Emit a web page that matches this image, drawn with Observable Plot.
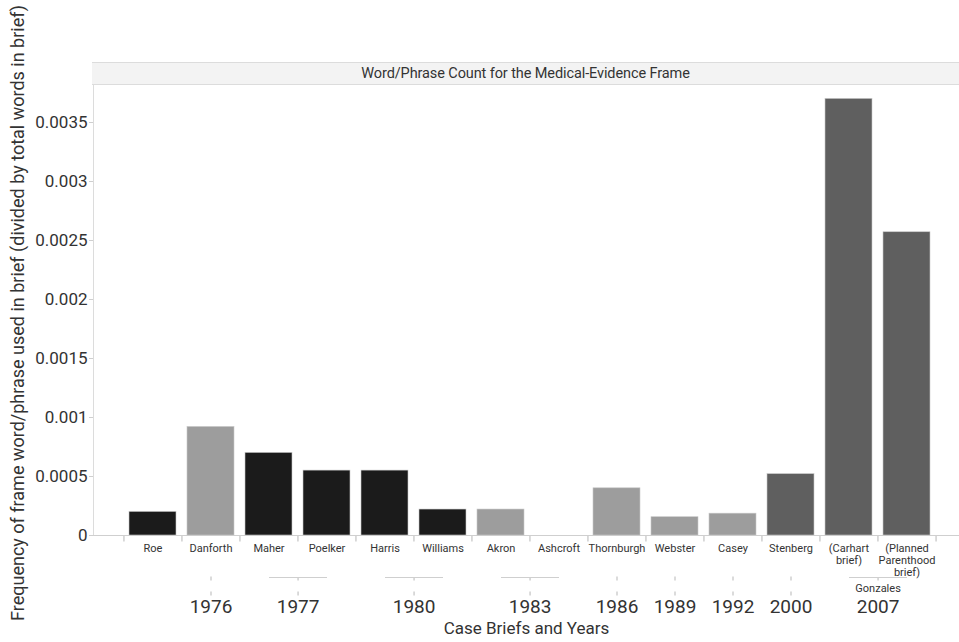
<!DOCTYPE html>
<html>
<head>
<meta charset="utf-8">
<script src="https://cdn.jsdelivr.net/npm/d3@7"></script>
<script src="https://cdn.jsdelivr.net/npm/@observablehq/plot@0.6"></script>
<style>
  body { margin: 0; background: #fff; font-family: Roboto, sans-serif; }
  #wrap { position: relative; width: 959px; height: 642px; }
  #header {
    position: absolute; left: 92px; top: 62px; width: 867px; height: 21px;
    background: #f3f3f3; border-top: 1px solid #dcdcdc; border-bottom: 1px solid #dcdcdc;
    font: 14.5px Roboto, sans-serif; color: #333; text-align: center; line-height: 21px;
    letter-spacing: -0.1px;
  }
</style>
</head>
<body>
<div id="wrap"><div id="header">Word/Phrase Count for the Medical-Evidence Frame</div></div>
<script>
// ---- data ----
const cases = ["Roe", "Danforth", "Maher", "Poelker", "Harris", "Williams", "Akron", "Ashcroft",
  "Thornburgh", "Webster", "Casey", "Stenberg", "Gonzales (Carhart brief)", "Gonzales (Planned Parenthood brief)"];
const caseLabels = ["Roe", "Danforth", "Maher", "Poelker", "Harris", "Williams", "Akron", "Ashcroft",
  "Thornburgh", "Webster", "Casey", "Stenberg", "(Carhart\nbrief)", "(Planned\nParenthood\nbrief)"];
const frequency = [0.0002, 0.00092, 0.0007, 0.00055, 0.00055, 0.00022, 0.00022, 0,
  0.0004, 0.000155, 0.000185, 0.00052, 0.0037, 0.00257];
const shade = ["black", "light", "black", "black", "black", "black", "light", "light",
  "light", "light", "light", "dark", "dark", "dark"];
const shadeNames = ["black", "light", "dark"];
const shadeColors = ["#1b1b1b", "#9d9d9d", "#5f5f5f"];

const yearLabels = ["1976", "1977", "1980", "1983", "1986", "1989", "1992", "2000", "2007"];
const yearFirstCase = ["Danforth", "Maher", "Harris", "Akron", "Thornburgh", "Webster", "Casey", "Stenberg", "Gonzales (Carhart brief)"];
const yearLastCase = ["Danforth", "Poelker", "Williams", "Ashcroft", "Thornburgh", "Webster", "Casey", "Stenberg", "Gonzales (Planned Parenthood brief)"];
const groupNames = ["", "", "", "", "", "", "", "", "Gonzales"];

const yTicks = [0, 0.0005, 0.001, 0.0015, 0.002, 0.0025, 0.003, 0.0035];
const yTickLabels = ["0", "0.0005", "0.001", "0.0015", "0.002", "0.0025", "0.003", "0.0035"];

const yTitle = "Frequency of frame word/phrase used in brief (divided by total words in brief)";
const xTitle = "Case Briefs and Years";

// ---- build ----
const bars = cases.map((c, i) => ({case: c, value: frequency[i], shade: shade[i]}));
const years = yearLabels.map((y, i) => ({
  year: y, first: yearFirstCase[i], last: yearLastCase[i], group: groupNames[i],
  pair: yearFirstCase[i] !== yearLastCase[i]
}));
const singles = years.filter(d => !d.pair);
const pairs = years.filter(d => d.pair);

const xRange = [122, 936];
const step = (xRange[1] - xRange[0]) / cases.length;

const vTick = {draw(ctx, size) { const r = Math.sqrt(size / Math.PI); ctx.moveTo(0, 0); ctx.lineTo(0, r); }};
const gridGray = "#cfcfcf";

const chart = Plot.plot({
  width: 959,
  height: 642,
  marginLeft: 93,
  marginRight: 0,
  marginTop: 84,
  marginBottom: 107,
  style: {fontFamily: "Roboto, sans-serif", color: "#333", background: "transparent"},
  x: {type: "band", domain: cases, range: xRange, paddingInner: 0.19, paddingOuter: 0.095, axis: null},
  y: {domain: [0, 451 / 118000], axis: null},
  color: {domain: shadeNames, range: shadeColors},
  marks: [
    Plot.frame({anchor: "left", stroke: "#dcdcdc"}),
    Plot.ruleY([0], {stroke: gridGray}),
    Plot.axisY({ticks: yTicks, tickFormat: (d) => yTickLabels[yTicks.indexOf(d)], tickSize: 4, tickPadding: 2,
      fontSize: 17, stroke: gridGray, fill: "#333", label: null}),
    Plot.barY(bars, {x: "case", y: "value", fill: "shade", stroke: "#c8c8c8", strokeWidth: 0.6}),
    // case labels
    Plot.axisX({ticks: cases, tickFormat: (d) => caseLabels[cases.indexOf(d)], tickSize: 0, tickPadding: 8,
      fontSize: 11, lineHeight: 1.1, fill: "#333", label: null}),
    // separators between cases
    Plot.dot(cases, {x: d => d, frameAnchor: "bottom", symbol: vTick, r: 6, stroke: gridGray, dx: -step / 2}),
    Plot.dot(cases.slice(-1), {x: d => d, frameAnchor: "bottom", symbol: vTick, r: 6, stroke: gridGray, dx: step / 2}),
    // year row: single-case years
    Plot.dot(singles, {x: "first", frameAnchor: "bottom", symbol: vTick, r: 4, stroke: gridGray, dy: 41}),
    Plot.dot(singles, {x: "first", frameAnchor: "bottom", symbol: vTick, r: 4, stroke: gridGray, dy: 56}),
    Plot.text(singles, {x: "first", text: "year", frameAnchor: "bottom", lineAnchor: "middle", dy: 71, fontSize: 19, fill: "#333"}),
    // year row: two-case years with bracket
    Plot.link(pairs, {x1: "first", x2: "last", y1: 0, y2: 0, dy: 42, stroke: gridGray}),
    Plot.dot(pairs, {x: "first", frameAnchor: "bottom", symbol: vTick, r: 3, stroke: gridGray, dy: 42, dx: step / 2}),
    Plot.dot(pairs.filter(d => !d.group), {x: "first", frameAnchor: "bottom", symbol: vTick, r: 4, stroke: gridGray, dy: 56, dx: step / 2}),
    Plot.text(pairs.filter(d => d.group), {x: "first", text: "group", frameAnchor: "bottom", lineAnchor: "middle", dy: 53, dx: step / 2, fontSize: 11, fill: "#333"}),
    Plot.text(pairs, {x: "first", text: "year", frameAnchor: "bottom", lineAnchor: "middle", dy: 71, dx: step / 2, fontSize: 19, fill: "#333"}),
    // titles
    Plot.text([xTitle], {frameAnchor: "bottom", lineAnchor: "middle", dy: 93, fontSize: 17, fill: "#333"}),
    Plot.text([yTitle], {frameAnchor: "left", textAnchor: "middle", lineAnchor: "middle", rotate: -90, dx: -75, dy: 3, fontSize: 18, fill: "#333"})
  ]
});
chart.style.position = "absolute";
chart.style.left = "0px";
chart.style.top = "0px";
document.getElementById("wrap").prepend(chart);
</script>
</body>
</html>
